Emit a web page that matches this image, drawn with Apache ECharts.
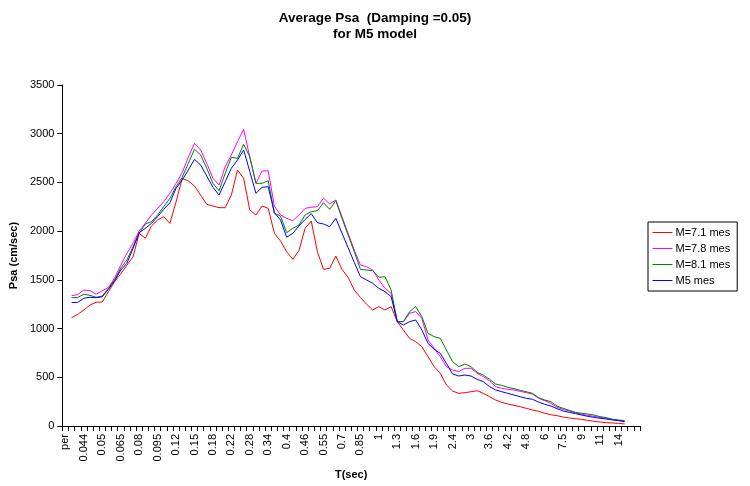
<!DOCTYPE html>
<html>
<head>
<meta charset="utf-8">
<script src="https://cdn.jsdelivr.net/npm/echarts@6/dist/echarts.min.js"></script>
<style>
html,body{margin:0;padding:0;background:#fff;}
#chart{width:750px;height:486px;}
</style>
</head>
<body>
<div id="chart"></div>
<script>
const periods = ['per','0.04','0.042','0.044','0.046','0.048','0.05','0.055','0.06','0.065','0.07','0.075','0.08','0.085','0.09','0.095','0.1','0.11','0.12','0.13','0.14','0.15','0.16','0.17','0.18','0.19','0.2','0.22','0.24','0.26','0.28','0.3','0.32','0.34','0.36','0.38','0.4','0.42','0.44','0.46','0.48','0.5','0.55','0.6','0.65','0.7','0.75','0.8','0.85','0.9','0.95','1','1.1','1.2','1.3','1.4','1.5','1.6','1.7','1.8','1.9','2','2.2','2.4','2.6','2.8','3','3.2','3.4','3.6','3.8','4','4.2','4.4','4.6','4.8','5','5.5','6','6.5','7','7.5','8','8.5','9','9.5','10','11','12','13','14','15',' ','  '];

const m71 = [null,1112,1146,1191,1242,1270,1273,1379,1481,1560,1651,1738,1978,1926,2053,2114,2149,2080,2300,2542,2515,2463,2371,2275,2258,2241,2241,2371,2628,2542,2217,2166,2258,2234,1978,1899,1789,1711,1800,2029,2104,1789,1608,1618,1745,1608,1526,1396,1320,1250,1191,1225,1191,1225,1071,985,900,866,814,712,609,541,421,359,335,342,352,362,335,301,267,243,226,212,198,181,164,151,130,116,106,92,82,75,68,58,48,41,34,31,27,21];

const m78 = [null,1338,1348,1396,1389,1352,1389,1423,1520,1650,1772,1875,2001,2080,2166,2234,2303,2388,2491,2600,2758,2901,2833,2696,2542,2474,2662,2782,2918,3045,2760,2491,2617,2620,2258,2166,2132,2107,2166,2234,2245,2251,2337,2279,2320,2149,1978,1806,1653,1635,1601,1499,1413,1362,1071,1071,1157,1174,1105,883,797,712,609,575,558,592,592,541,506,465,404,387,376,370,356,342,328,284,260,233,192,171,154,137,120,110,99,89,79,68,58,51];

const m81 = [null,1317,1320,1352,1341,1321,1334,1413,1500,1620,1704,1840,1978,2073,2097,2166,2251,2337,2456,2553,2696,2840,2782,2645,2491,2415,2594,2758,2748,2891,2764,2491,2491,2518,2183,2155,1984,2029,2063,2166,2200,2210,2292,2224,2313,2132,1960,1789,1608,1601,1594,1526,1533,1396,1071,1071,1174,1225,1122,951,917,900,780,660,609,636,609,551,523,480,431,417,397,383,366,352,335,291,267,250,205,181,161,140,130,123,113,96,86,68,62,55];

const m5 = [null,1266,1269,1311,1321,1317,1327,1403,1490,1600,1670,1824,1984,2029,2080,2149,2224,2292,2440,2525,2628,2737,2679,2566,2450,2371,2508,2645,2730,2833,2612,2388,2450,2456,2190,2114,1937,1978,2053,2120,2180,2087,2073,2046,2132,1980,1830,1680,1533,1499,1465,1413,1379,1327,1071,1037,1071,1088,985,849,787,746,643,534,513,523,513,479,455,404,370,352,335,318,301,284,274,246,223,205,178,154,140,127,113,99,89,79,72,62,55,44];

const seriesNames = ['M=7.1 mes','M=7.8 mes','M=8.1 mes','M5 mes'];
const seriesColors = ['#ff0000','#ff00ff','#008000','#0000ff'];
const seriesData = [m71, m78, m81, m5];

const FONT = 'Liberation Sans, Arial, sans-serif';
const chart = echarts.init(document.getElementById('chart'), null, {renderer:'canvas'});
chart.setOption({
  animation:false,
  backgroundColor:'#ffffff',
  title:{
    text:'Average Psa  (Damping =0.05)\nfor M5 model',
    left:'center', top:5,
    textStyle:{fontFamily:FONT,fontSize:13.5,fontWeight:'bold',color:'#000',lineHeight:16}
  },
  legend:{
    orient:'vertical',
    left:648, top:222,
    padding:[5,7,5,4],
    itemWidth:20, itemHeight:10, itemGap:5,
    borderColor:'#000', borderWidth:1,
    itemStyle:{opacity:0},
    lineStyle:{width:1},
    textStyle:{fontFamily:FONT,fontSize:11,color:'#000',padding:[0,0,0,-2]},
    data:seriesNames
  },
  grid:{left:58, top:85, width:582, height:341, containLabel:false},
  xAxis:{
    type:'category',
    data:periods,
    boundaryGap:true,
    name:'T(sec)',
    nameLocation:'middle',
    nameGap:36,
    nameTextStyle:{fontFamily:FONT,fontSize:11,fontWeight:'bold',color:'#000'},
    axisLine:{lineStyle:{color:'#000',width:1}},
    axisTick:{show:true,interval:0,length:5,lineStyle:{color:'#000'}},
    axisLabel:{interval:2,rotate:90,margin:8,fontFamily:FONT,fontSize:11,color:'#000'},
    splitLine:{show:false}
  },
  yAxis:{
    type:'value',
    min:0, max:3500, interval:500,
    name:'Psa (cm/sec)',
    nameLocation:'middle',
    nameGap:35,
    nameTextStyle:{fontFamily:FONT,fontSize:11,fontWeight:'bold',color:'#000'},
    axisLine:{show:true,lineStyle:{color:'#000',width:1}},
    axisTick:{show:true,length:5,lineStyle:{color:'#000'}},
    axisLabel:{margin:8,fontFamily:FONT,fontSize:11,color:'#000',formatter:function(v){return String(v);}},
    splitLine:{show:false}
  },
  series: seriesNames.map((n,k)=>({
    name:n, type:'line', data:seriesData[k],
    symbol:'none', showSymbol:false,
    lineStyle:{color:seriesColors[k],width:1},
    itemStyle:{color:seriesColors[k]},
    connectNulls:false
  }))
});
</script>
</body>
</html>
